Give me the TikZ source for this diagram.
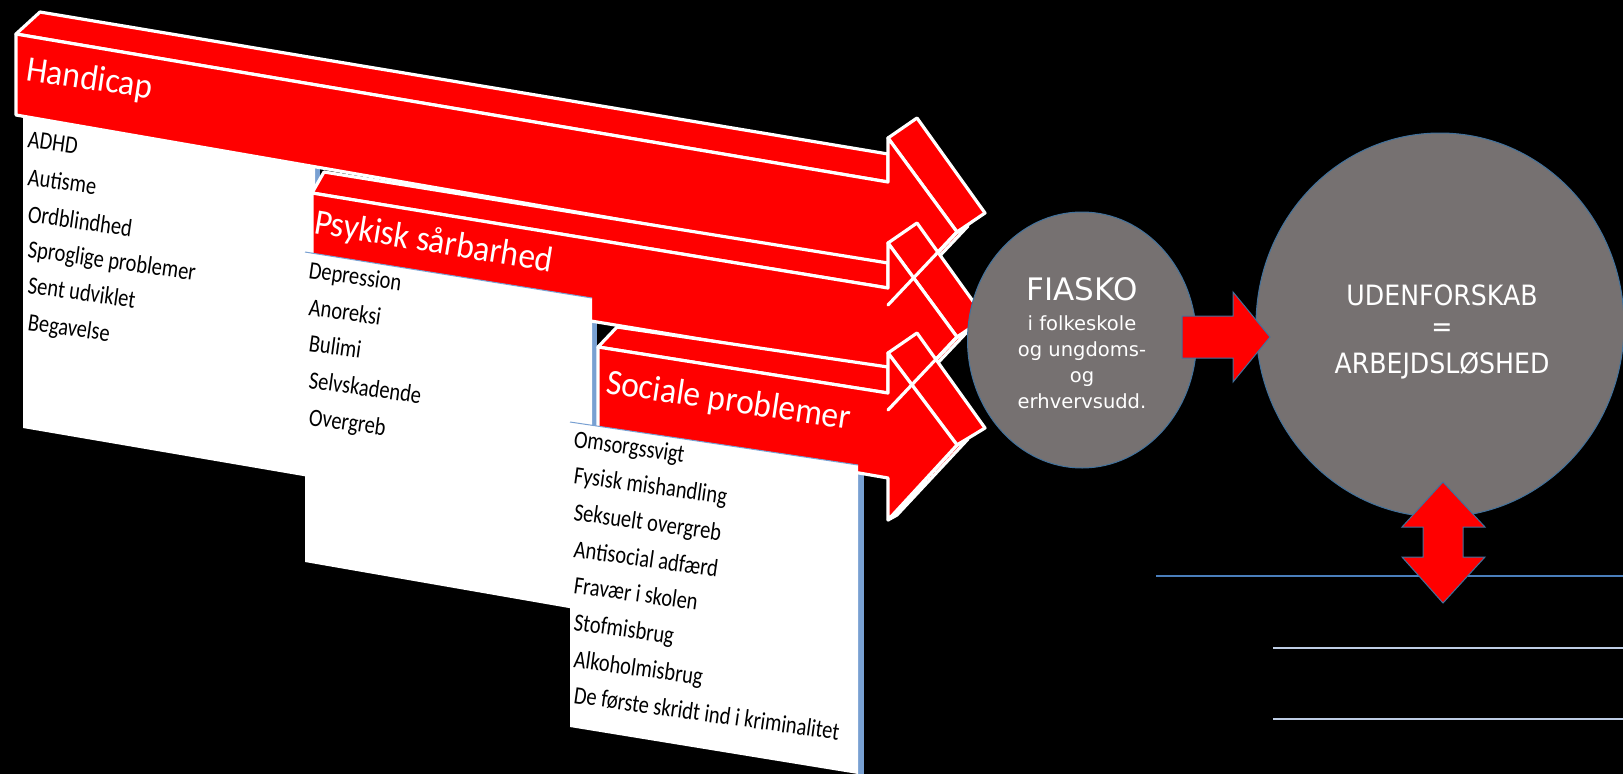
\documentclass[tikz,border=0pt]{standalone}
\usepackage{fontspec}
\usetikzlibrary{shapes.geometric}
\newfontfamily\carl{Carlito}
\newfontfamily\dvs{DejaVu Sans}
\definecolor{arrred}{RGB}{255,0,0}
\definecolor{circgray}{RGB}{118,113,113}
\definecolor{edgeblue}{RGB}{65,113,156}
\definecolor{sideblue}{RGB}{120,160,210}
\definecolor{lineblue}{RGB}{74,126,187}
\definecolor{paleblue}{RGB}{190,205,228}
\tikzset{
  face/.style={fill=arrred, draw=white, line width=3.2pt, line join=round},
  edgeline/.style={draw=white, line width=3.2pt, line cap=round},
  panel/.style={fill=white, draw=none},
  side/.style={fill=sideblue, draw=none},
  hdr/.style={anchor=base west, inner sep=0pt, text=white, font=\carl\fontsize{36}{40}\selectfont, rotate=-8.5, xscale=.93},
  item/.style={anchor=base west, inner sep=0pt, text=black, font=\carl\fontsize{25}{30}\selectfont, rotate=-8, xscale=.82},
  bubble/.style={ellipse, fill=circgray, draw=edgeblue, line width=1pt, inner sep=0pt},
  ftitle/.style={anchor=base, inner sep=0pt, text=white, font=\dvs\fontsize{31}{31}\selectfont},
  fsub/.style={anchor=base, inner sep=0pt, text=white, font=\dvs\fontsize{19.5}{20}\selectfont},
  utext/.style={anchor=base, inner sep=0pt, text=white, font=\dvs\fontsize{28}{28}\selectfont, xscale=.9},
  blockarrow/.style={fill=arrred, draw=edgeblue, line width=1pt, line join=miter},
}
\begin{document}
\begin{tikzpicture}[x=1pt,y=-1pt]
\fill[black] (0,0) rectangle (1623,774);
\useasboundingbox (0,0) rectangle (1623,774);

% ---------- Handicap arrow ----------
\fill[side] (315,160) rectangle (320,478);
\draw[face] (16,34) -- (40,12) -- (888,154) -- (888,182) -- cycle;
\draw[face] (888,138) -- (917,118) -- (985,213) -- (957,232) -- cycle;
\draw[face] (957,232) -- (968,226) -- (897,301) -- (888,305) -- cycle;
\draw[face] (16,34) -- (888,182) -- (888,138) -- (957,232) -- (888,305) -- (888,266) -- (16,115) -- cycle;
\node[hdr] (hhandicap) at (25,80) {Handicap};

% Handicap panel
\fill[panel] (23,117) -- (315,167) -- (315,478) -- (23,428) -- cycle;
\node[item] (h1) at (27,147) {ADHD};
\node[item] (h2) at (27,185) {Autisme};
\node[item] (h3) at (27,222) {Ordblindhed};
\node[item] (h4) at (27,257) {Sproglige problemer};
\node[item] (h5) at (27,293) {Sent udviklet};
\node[item] (h6) at (27,330) {Begavelse};

% ---------- Psykisk arrow ----------
\fill[side] (592,298) rectangle (597,612);
\draw[face] (312,193) -- (324,172) -- (888,263) -- (888,288) -- cycle;
\draw[face] (888,243) -- (917,223) -- (985,318) -- (957,337) -- cycle;
\draw[face] (957,337) -- (968,331) -- (897,406) -- (888,410) -- cycle;
\draw[face] (312,193) -- (888,288) -- (888,243) -- (957,337) -- (888,410) -- (888,370) -- (312,275) -- cycle;
\draw[edgeline] (957,232) -- (888,305);
\node[hdr, rotate=-0.8] (hpsyk) at (313,233) {Psykisk sårbarhed};

% Psykisk panel
\fill[panel] (305,252) -- (592,298) -- (592,612) -- (305,562) -- cycle;
\draw[sideblue, line width=1pt] (305,252) -- (592,298);
\node[item] (p1) at (308,278) {Depression};
\node[item] (p2) at (308,315) {Anoreksi};
\node[item] (p3) at (308,351) {Bulimi};
\node[item] (p4) at (308,388) {Selvskadende};
\node[item] (p5) at (308,425) {Overgreb};

% ---------- Sociale arrow ----------
\fill[side] (858,465) rectangle (864,774);
\draw[face] (598,347) -- (617,327) -- (888,367) -- (888,393) -- cycle;
\draw[face] (888,353) -- (917,333) -- (985,428) -- (957,445) -- cycle;
\draw[face] (957,445) -- (968,439) -- (897,515) -- (888,520) -- cycle;
\draw[face] (598,347) -- (888,393) -- (888,353) -- (957,445) -- (888,520) -- (888,478) -- (598,428) -- cycle;
\draw[edgeline] (957,337) -- (888,410);
\node[hdr] (hsoc) at (605,393) {Sociale problemer};

% Sociale panel
\fill[panel] (570,422) -- (858,465) -- (858,774) -- (570,727) -- cycle;
\draw[sideblue, line width=1pt] (570,422) -- (858,465);
\node[item] (s1) at (573,447) {Omsorgssvigt};
\node[item] (s2) at (573,483) {Fysisk mishandling};
\node[item] (s3) at (573,520) {Seksuelt overgreb};
\node[item] (s4) at (573,557) {Antisocial adfærd};
\node[item] (s5) at (573,593) {Fravær i skolen};
\node[item] (s6) at (573,630) {Stofmisbrug};
\node[item] (s7) at (573,667) {Alkoholmisbrug};
\node[item] (s8) at (573,703) {De første skridt ind i kriminalitet};

% ---------- circles ----------
\node[bubble, minimum width=229pt, minimum height=256pt] (fiasko) at (1082,340) {};
\node[bubble, minimum width=368pt, minimum height=384pt] (uden) at (1440,325) {};

\node[ftitle] (f0) at (1082,300) {FIASKO};
\node[fsub] (f1) at (1082,330) {i folkeskole};
\node[fsub] (f2) at (1082,356) {og ungdoms-};
\node[fsub] (f3) at (1082,382) {og};
\node[fsub] (f4) at (1082,408) {erhvervsudd.};

\node[utext] (u1) at (1442,305) {UDENFORSKAB};
\node[utext, anchor=center] (u2) at (1442,330) {=};
\node[utext] (u3) at (1442,373) {ARBEJDSLØSHED};

% ---------- lines ----------
\draw[lineblue, line width=2pt] (1156,576) -- (1623,576);
\draw[paleblue, line width=2pt] (1273,648) -- (1623,648);
\draw[paleblue, line width=2pt] (1273,719) -- (1623,719);

% ---------- block arrows ----------
\draw[blockarrow] (1182,316) -- (1233,316) -- (1233,292) -- (1270,337) -- (1233,382) -- (1233,358) -- (1182,358) -- cycle;
\draw[blockarrow] (1443,482) -- (1485,527) -- (1463,527) -- (1463,557) -- (1485,557) -- (1443,603) -- (1402,557) -- (1423,557) -- (1423,527) -- (1402,527) -- cycle;
\end{tikzpicture}
\end{document}
